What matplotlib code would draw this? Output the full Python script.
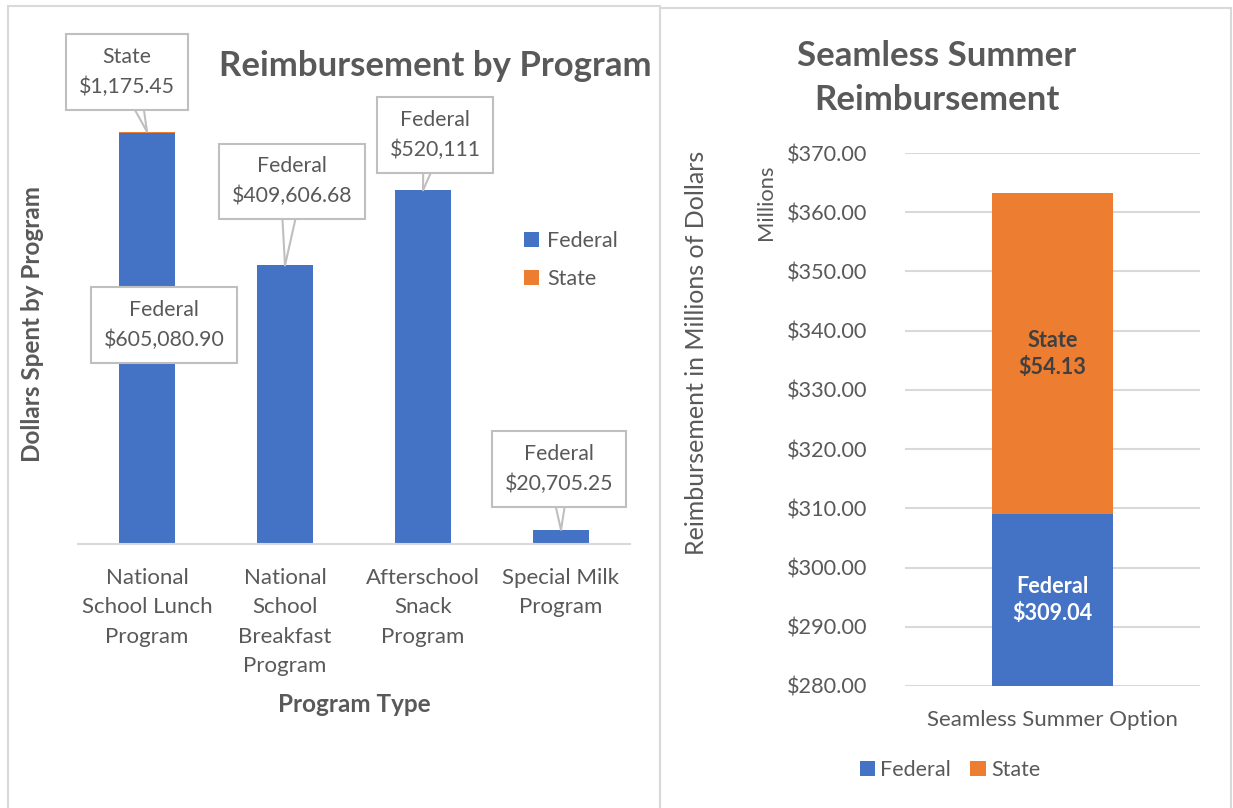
import matplotlib.pyplot as plt
from matplotlib.patches import Rectangle

# left chart: reimbursement by program (dollars)
programs = ['National\nSchool Lunch\nProgram', 'National\nSchool\nBreakfast\nProgram',
            'Afterschool\nSnack\nProgram', 'Special Milk\nProgram']
federal = [605080.90, 409606.68, 520111, 20705.25]
state = [1175.45, 0, 0, 0]
fed_labels = ['$605,080.90', '$409,606.68', '$520,111', '$20,705.25']

# right chart: seamless summer option (millions of dollars)
sso_category = ['Seamless Summer Option']
sso_federal = [309.04]
sso_state = [54.13]

BLUE = '#4472C4'
ORANGE = '#ED7D31'
TXT = '#595959'
GRID = '#D9D9D9'

plt.rcParams['font.family'] = ['Lato', 'DejaVu Sans']

W, H = 1233, 808
fig = plt.figure(figsize=(W / 100, H / 100), dpi=100)

def fx(px):
    return px / W

def fy(py):
    return 1 - py / H

# panel borders
fig.patches.append(Rectangle((fx(8), fy(830)), fx(652), fy(6) - fy(830), transform=fig.transFigure,
                             fill=False, ec=GRID, lw=1.5))
fig.patches.append(Rectangle((fx(660), fy(830)), fx(571), fy(8) - fy(830), transform=fig.transFigure,
                             fill=False, ec=GRID, lw=1.5))

# ---------------- left chart ----------------
ax1 = fig.add_axes([fx(78), fy(544), fx(552), fy(68) - fy(544)])
x = range(len(programs))
ax1.bar(x, federal, width=0.4, color=BLUE, label='Federal', zorder=2)
ax1.bar(x, state, width=0.4, bottom=federal, color=ORANGE, label='State', zorder=2)
ax1.set_ylim(0, 700000)
ax1.set_xlim(-0.5, len(programs) - 0.5)
ax1.set_yticks([])
ax1.set_xticks(list(x))
ax1.set_xticklabels(programs, fontsize=16, color=TXT, linespacing=1.6, va='top')
ax1.tick_params(axis='x', length=0, pad=17)
for s in ['top', 'right', 'left']:
    ax1.spines[s].set_visible(False)
ax1.spines['bottom'].set_color(GRID)
ax1.spines['bottom'].set_linewidth(1.5)
ax1.set_ylabel('Dollars Spent by Program', fontsize=17.5, fontweight='bold', color=TXT)
ax1.yaxis.set_label_coords(-0.062, 0.462)
ax1.set_xlabel('Program Type', fontsize=17.5, fontweight='bold', color=TXT)
ax1.xaxis.set_label_coords(0.5, -0.312)

box = dict(boxstyle='square,pad=0.6', fc='white', ec='#BFBFBF', lw=1.5)
wedge = dict(arrowstyle='wedge,tail_width=1.1,shrink_factor=0.5', fc='white', ec='#BFBFBF',
             lw=1.5, shrinkA=0, shrinkB=0, patchA=None)

def callout(text, xy, off, arrow=True):
    ax1.annotate(text, xy=xy, xytext=(off[0] * 0.72, off[1] * 0.72), textcoords='offset points',
                 ha='center', va='center', fontsize=15.3, color=TXT, linespacing=1.6,
                 bbox=box, arrowprops=wedge if arrow else None, zorder=5)

tops = [f + s for f, s in zip(federal, state)]
callout('State\n$1,175.45', (0, tops[0]), (-20, 60))
callout('Federal\n' + fed_labels[0], (0, tops[0]), (17, -193), arrow=False)
callout('Federal\n' + fed_labels[1], (1, tops[1]), (7, 84))
callout('Federal\n' + fed_labels[2], (2, tops[2]), (12, 55))
callout('Federal\n' + fed_labels[3], (3, tops[3]), (-2, 61))

ax1.legend(loc='upper left', bbox_to_anchor=(fx(505), fy(212)), bbox_transform=fig.transFigure,
           frameon=False, fontsize=15.5, labelcolor=TXT, handlelength=0.7, handleheight=0.7,
           handletextpad=0.35, labelspacing=0.8)

fig.text(fx(435), fy(66), 'Reimbursement by Program', ha='center', va='center',
         fontsize=25, fontweight='bold', color=TXT)

# ---------------- right chart ----------------
ax2 = fig.add_axes([fx(905), fy(686), fx(295), fy(153) - fy(686)])
ax2.bar(sso_category, sso_federal, width=0.41, color=BLUE, label='Federal', zorder=2)
ax2.bar(sso_category, sso_state, width=0.41, bottom=sso_federal, color=ORANGE, label='State', zorder=2)
ax2.set_ylim(280, 370)
ax2.set_xlim(-0.5, 0.5)
ax2.set_yticks(range(280, 371, 10))
ax2.set_yticklabels(['${:.2f}'.format(v) for v in range(280, 371, 10)], fontsize=15.6, color=TXT)
ax2.tick_params(axis='y', length=0, pad=27)
ax2.tick_params(axis='x', length=0, pad=17, labelsize=16, labelcolor=TXT)
ax2.grid(axis='y', color=GRID, lw=1.5, zorder=0)
for s in ax2.spines.values():
    s.set_visible(False)

ax2.set_ylabel('Reimbursement in Millions of Dollars', fontsize=18, color=TXT)
ax2.yaxis.set_label_coords(-0.668, 0.625)
ax2.text(-0.471, 0.908, 'Millions', transform=ax2.transAxes, rotation=90, ha='center', va='center',
         fontsize=15.8, color=TXT)

lo = ax2.get_ylim()[0]
fed_mid = (lo + sso_federal[0]) / 2
st_mid = sso_federal[0] + sso_state[0] / 2
ax2.text(0, fed_mid, 'Federal\n${:.2f}'.format(sso_federal[0]), ha='center', va='center',
         fontsize=15.6, fontweight='bold', color='white', linespacing=1.35, zorder=3)
ax2.text(0, st_mid, 'State\n${:.2f}'.format(sso_state[0]), ha='center', va='center',
         fontsize=15.6, fontweight='bold', color='#404040', linespacing=1.35, zorder=3)

ax2.legend(loc='center', bbox_to_anchor=(fx(950), fy(770)), bbox_transform=fig.transFigure,
           ncol=2, frameon=False, fontsize=15.5, labelcolor=TXT, handlelength=0.7, handleheight=0.7,
           handletextpad=0.25, columnspacing=0.9)

fig.text(fx(937), fy(78), 'Seamless Summer\nReimbursement', ha='center', va='center',
         fontsize=25, fontweight='bold', color=TXT, linespacing=1.45)

fig.savefig('out.png', dpi=100)
